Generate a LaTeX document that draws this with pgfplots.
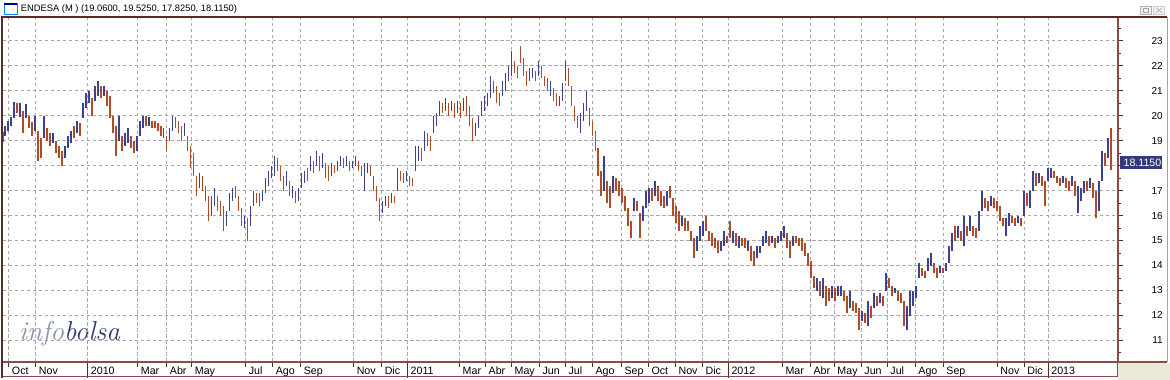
\documentclass[border=0pt]{standalone}
\usepackage{fontspec}
\usepackage{pgfplots}
\pgfplotsset{compat=1.18}
\usepackage{pgfplotstable}
\newfontfamily\lsans{Liberation Sans}
\definecolor{barblue}{HTML}{3C4290}
\definecolor{barred}{HTML}{B04B2A}
\definecolor{gridgray}{HTML}{A8A8A8}
\definecolor{framebrown}{HTML}{8B4B4B}
\definecolor{framedark}{HTML}{5A2A2A}
\definecolor{panelline}{HTML}{B89A9A}
\definecolor{beige}{HTML}{ECE9D8}
\definecolor{pricebox}{HTML}{33397A}
\definecolor{logolight}{HTML}{8A92AA}
\definecolor{logodark}{HTML}{2E3A6B}
\pgfplotstableread{
x lo hi
4 19.2 19.6
7 19.4 19.8
10 19.6 19.95
13 19.9 20.55
19 19.95 20.5
25 19.9 20.45
34 19.4 20.0
43 19.1 20.0
52 18.9 19.3
64 18.3 18.8
67 18.7 19.2
70 18.9 19.4
76 19.3 19.8
82 19.9 20.5
85 20.3 20.9
88 20.5 21.0
94 20.6 21.2
97 20.8 21.4
103 20.8 21.2
118 19.0 20.0
124 18.8 19.3
127 18.9 19.5
136 18.6 19.2
139 19.2 19.8
142 19.5 20.0
148 19.6 19.95
163 19.1 19.5
169 19.0 19.5
172 19.4 20.0
184 19.2 19.7
199 17.1 17.7
211 16.0 16.8
214 16.4 17.1
226 15.6 16.2
229 16.2 16.9
232 16.6 17.1
244 15.5 16.0
250 15.6 16.4
253 16.4 17.0
262 16.6 17.0
265 16.9 17.5
268 17.2 17.8
271 17.5 18.0
274 17.6 18.4
286 17.2 17.8
292 16.7 17.2
298 16.6 17.1
301 17.1 17.7
304 17.3 17.8
310 17.8 18.4
316 18.0 18.6
322 17.9 18.5
331 17.6 18.1
337 17.8 18.2
340 18.0 18.4
346 18.0 18.4
352 17.9 18.2
355 18.0 18.4
364 17.0 18.1
367 17.7 18.1
382 16.1 16.6
385 16.4 16.8
391 16.5 16.9
397 17.0 17.9
406 17.4 17.8
415 17.8 18.8
418 18.2 18.8
424 18.6 19.4
433 19.3 20.0
436 19.6 20.1
439 20.0 20.6
445 20.2 20.7
451 20.2 20.6
457 20.1 20.6
463 20.2 20.7
475 19.2 19.7
478 19.5 20.0
481 20.0 20.6
484 20.2 20.8
487 20.4 20.9
490 20.7 21.6
502 20.8 21.4
505 21.0 21.7
508 21.4 22.0
511 21.6 22.6
529 21.4 21.9
532 21.5 21.9
538 21.6 22.2
550 20.8 21.4
559 20.4 20.8
562 20.6 21.3
565 21.4 22.2
580 19.3 20.1
583 19.8 20.5
586 20.2 21.0
604 17.0 18.4
613 16.9 17.6
634 16.2 16.7
643 15.8 16.4
646 16.3 17.0
649 16.5 17.1
655 16.8 17.4
667 16.4 17.0
682 15.6 16.0
697 14.6 15.2
700 15.0 15.6
703 15.2 15.8
721 14.6 15.0
724 14.8 15.4
733 14.9 15.4
739 14.7 15.2
748 14.6 15.0
757 14.3 14.8
760 14.5 14.8
763 14.8 15.2
766 14.9 15.4
772 14.9 15.2
778 14.9 15.2
781 15.0 15.4
784 15.1 15.6
793 14.8 15.2
817 13.0 13.5
823 12.7 13.5
832 12.7 13.2
838 12.8 13.2
841 12.8 13.2
850 12.3 13.0
862 11.8 12.2
868 11.6 12.6
874 12.3 12.9
880 12.5 12.9
886 13.0 13.7
895 12.9 13.1
907 11.4 12.4
910 12.0 13.0
913 12.4 13.0
916 12.7 13.2
919 13.5 14.1
928 13.8 14.3
931 14.0 14.5
940 13.7 14.0
946 13.8 14.1
949 14.1 14.8
952 14.6 15.3
958 15.1 15.6
964 14.8 16.0
970 15.4 16.0
979 15.4 16.2
982 16.2 17.0
991 16.4 16.8
1006 15.2 15.9
1009 15.6 16.1
1018 15.7 16.0
1024 16.0 17.0
1030 16.3 17.0
1033 17.0 17.8
1039 17.3 17.7
1048 17.4 17.9
1051 17.5 17.9
1063 17.3 17.6
1072 17.2 17.6
1078 16.1 17.2
1081 16.6 17.1
1084 16.9 17.4
1090 17.1 17.5
1099 16.2 17.4
1102 17.4 18.6
1108 18.3 19.1
}\bluebars
\pgfplotstableread{
x lo hi
2 18.95 19.35
16 20.1 20.5
22 19.3 20.2
28 19.5 20.0
31 19.2 19.75
37 18.2 19.4
40 18.3 19.1
46 19.0 19.5
49 18.8 19.3
55 18.5 19.0
58 18.3 18.8
61 18.0 18.6
73 19.1 19.6
79 19.2 19.7
91 20.0 20.7
100 20.7 21.2
106 20.4 21.0
109 19.9 20.8
112 19.3 20.0
115 18.4 19.6
121 18.6 19.2
130 18.7 19.2
133 18.5 19.0
145 19.6 20.0
151 19.5 19.8
154 19.5 19.8
157 19.4 19.7
160 19.2 19.6
166 18.6 19.2
175 19.5 19.95
178 19.3 19.8
181 19.0 19.6
187 18.6 19.2
190 17.9 18.8
193 17.6 18.5
196 16.8 17.6
202 17.0 17.6
205 16.6 17.2
208 15.8 16.8
217 16.2 16.8
220 16.0 16.6
223 15.4 16.4
235 16.7 17.2
238 16.2 16.8
241 15.6 16.3
247 15.0 15.9
256 16.5 16.9
259 16.4 16.9
277 17.8 18.3
280 17.4 18.0
283 17.0 17.6
289 16.8 17.4
295 16.5 17.0
307 17.4 17.9
313 17.7 18.2
319 17.8 18.4
325 17.5 18.1
328 17.4 18.0
334 17.7 18.0
343 17.9 18.3
349 17.8 18.2
358 17.8 18.2
361 17.6 18.0
370 17.6 18.0
373 17.0 17.6
376 16.6 17.2
379 15.8 16.7
388 16.3 16.8
394 16.5 16.8
400 17.4 17.8
403 17.3 17.7
409 17.2 17.6
412 17.2 17.5
421 18.2 18.7
427 18.8 19.3
430 18.6 19.2
442 20.1 20.5
448 20.0 20.5
454 19.9 20.5
460 19.9 20.5
466 20.0 20.8
469 19.6 20.4
472 19.0 19.9
493 20.9 21.4
496 20.5 21.2
499 20.4 20.9
514 21.7 22.2
517 21.5 22.0
520 22.1 22.8
523 21.6 22.3
526 21.2 21.8
535 21.4 21.8
541 21.5 22.0
544 21.2 21.6
547 21.0 21.5
553 20.6 21.1
556 20.4 20.9
568 21.2 21.9
571 20.4 21.2
574 19.8 20.4
577 19.5 20.0
589 19.6 20.3
592 19.2 19.8
595 18.6 19.4
598 17.6 18.7
601 16.8 17.8
607 16.5 17.4
610 16.3 17.2
616 17.0 17.5
619 16.8 17.4
622 16.5 17.1
625 16.2 16.8
628 15.6 16.3
631 15.1 15.8
637 16.2 16.6
640 15.1 16.1
652 16.6 17.1
658 16.6 17.2
661 16.4 17.0
664 16.3 16.8
670 16.7 17.2
673 16.0 16.7
676 15.7 16.4
679 15.4 16.2
685 15.4 15.9
688 15.4 15.8
691 15.0 15.4
694 14.3 15.1
706 15.4 16.0
709 15.0 15.4
712 14.8 15.3
715 14.7 15.1
718 14.5 15.0
727 14.9 15.2
730 15.1 15.8
736 14.8 15.3
742 14.8 15.1
745 14.7 15.1
751 14.2 14.8
754 14.0 14.6
769 14.8 15.2
775 14.7 15.1
787 14.7 15.3
790 14.3 15.0
796 14.9 15.2
799 14.8 15.1
802 14.6 15.1
805 14.4 14.9
808 14.0 14.5
811 13.5 14.2
814 13.1 13.6
820 12.8 13.4
826 12.4 13.2
829 12.6 13.1
835 12.6 13.1
844 12.6 13.0
847 12.1 12.8
853 12.2 12.6
856 12.1 12.5
859 11.4 12.3
865 11.7 12.1
871 11.9 12.4
877 12.4 12.8
883 12.4 12.8
889 13.1 13.5
892 12.8 13.2
898 12.6 13.0
901 12.5 12.9
904 11.6 12.6
922 13.6 13.9
925 13.5 13.8
934 13.7 14.1
937 13.5 13.9
943 13.7 13.9
955 15.0 15.6
961 15.0 15.4
967 15.2 15.6
973 15.2 15.6
976 15.1 15.5
985 16.3 16.7
988 16.2 16.6
994 16.3 16.7
997 16.2 16.6
1000 15.8 16.4
1003 15.6 15.9
1012 15.7 16.0
1015 15.6 15.9
1021 15.6 15.9
1027 16.4 16.9
1036 17.2 17.7
1042 17.2 17.6
1045 16.4 17.4
1054 17.5 17.8
1057 17.3 17.6
1060 17.2 17.5
1066 17.1 17.5
1069 17.0 17.4
1075 16.8 17.4
1087 17.0 17.4
1093 16.7 17.3
1096 15.9 17.0
1105 18.0 18.5
1111 17.825 19.525
}\redbars
\begin{document}
\begin{tikzpicture}
\fill[white] (0,0) rectangle (877.5pt,285pt);
\fill[beige] (838.5pt,0) rectangle (877.5pt,12.5pt);
\node[anchor=base west, inner sep=0, font=\fontsize{20.5}{21}\selectfont\itshape] at (13.5pt,29.25pt) {\textcolor{logolight}{info}\textcolor{logodark}{bolsa}};
\begin{axis}[
  at={(1.5pt,13.5pt)}, anchor=south west,
  width=837pt, height=258pt, scale only axis,
  xmin=2, xmax=1118, ymin=10.148, ymax=23.908,
  axis line style={draw=none},
  xtick={8,35,137,166,191,245,272,300,353,381,459,485,511,539,565,592,621,648,675,702,782,810,834,861,887,915,943,997,1024},
  xticklabels={Oct,Nov,Mar,Abr,May,Jul,Ago,Sep,Nov,Dic,Mar,Abr,May,Jun,Jul,Ago,Sep,Oct,Nov,Dic,Mar,Abr,May,Jun,Jul,Ago,Sep,Nov,Dic},
  extra x ticks={87,407,728,1048},
  extra x tick labels={2010,2011,2012,2013},
  extra x tick style={major tick length=12pt, grid=major, xticklabel style={yshift=8.25pt}},
  xtick pos=bottom, ytick pos=right, yticklabel pos=right,
  tick align=outside,
  major tick length=3.75pt, minor tick length=2.25pt,
  tick style={draw=framedark, line width=0.75pt},
  ytick={11,12,13,14,15,16,17,18,19,20,21,22,23},
  yticklabels={11,12,13,14,15,16,17,,19,20,21,22,23},
  minor ytick={10.5,11.5,...,23.5},
  grid=major,
  major grid style={draw=gridgray, line width=0.5pt, dash pattern=on 2.5pt off 2pt},
  yticklabel style={font=\lsans\fontsize{7.5}{8}\selectfont, anchor=east, inner sep=0pt, xshift=30pt},
  xticklabel style={font=\lsans\fontsize{8}{9}\selectfont, anchor=base west, inner sep=0pt, xshift=2.25pt, yshift=-6pt},
]
\addplot[barblue, line width=1.3pt, mark=none,
  quiver={u=0, v=\thisrow{hi}-\thisrow{lo}}]
  table[x=x, y=lo] {\bluebars};
\addplot[barred, line width=1.3pt, mark=none,
  quiver={u=0, v=\thisrow{hi}-\thisrow{lo}}]
  table[x=x, y=lo] {\redbars};
\end{axis}
% frames
\draw[framebrown, line width=0.6pt] (1.5pt,2.25pt) -- (837.75pt,2.25pt) -- (837.75pt,13.5pt);
\draw[framebrown, line width=1.5pt] (1.5pt,13.5pt) -- (875.25pt,13.5pt);
\draw[framebrown, line width=1.6pt] (838.5pt,13.5pt) -- (838.5pt,271.5pt);
\draw[panelline, line width=0.75pt] (875.25pt,13.5pt) -- (875.25pt,272.3pt);
\draw[framedark, line width=1.1pt] (0,272.3pt) -- (875.6pt,272.3pt);
\draw[framedark, line width=1.5pt] (0.9pt,1.5pt) -- (0.9pt,272.3pt);
% price box
\fill[pricebox] (840pt,157.9pt) rectangle (871.5pt,168.1pt);
\node[anchor=east, inner sep=0pt, text=white, font=\lsans\fontsize{8}{9}\selectfont] at (871.2pt,163pt) {18.1150};
% title bar
\draw[blue!45!cyan, line width=0.6pt] (2.6pt,274pt) rectangle (12.4pt,282.4pt);
\draw[blue!60!black, line width=1.4pt] (2.6pt,282pt) -- (12.4pt,282pt);
\node[anchor=base west, inner sep=0pt, font=\lsans\fontsize{7}{8}\selectfont] at (15pt,276.2pt) {ENDESA (M ) (19.0600, 19.5250, 17.8250, 18.1150)};
\draw[gray!60, fill=gray!12, line width=0.5pt] (855.5pt,274.5pt) rectangle (863.5pt,280pt);
\draw[gray!70, line width=0.5pt] (857.5pt,276pt) rectangle (861.5pt,278.6pt);
\draw[gray!40, fill=gray!8, line width=0.5pt] (865pt,274.5pt) rectangle (873.5pt,280pt);
\draw[gray!55, line width=0.6pt] (866.8pt,275.3pt) -- (871.7pt,279.2pt) (866.8pt,279.2pt) -- (871.7pt,275.3pt);
\end{tikzpicture}
\end{document}
